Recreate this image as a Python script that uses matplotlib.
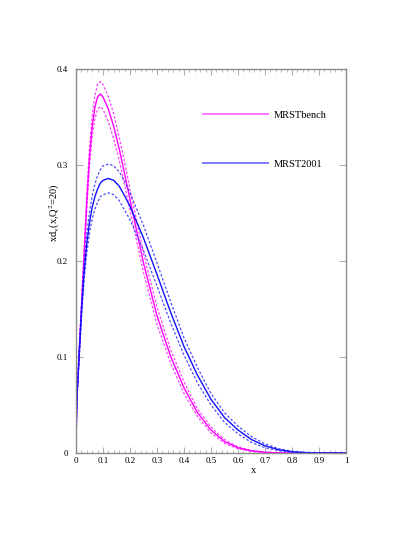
import numpy as np
import matplotlib
matplotlib.use("Agg")
import matplotlib.pyplot as plt
from matplotlib.ticker import MultipleLocator

plt.rcParams["font.family"] = ["Liberation Serif", "DejaVu Serif"]
plt.rcParams["mathtext.fontset"] = "stix"

# x grid shared by all curves
x = [0.0, 0.002, 0.005, 0.01, 0.02, 0.03, 0.04, 0.05, 0.06, 0.07, 0.08, 0.09,
     0.10, 0.12, 0.14, 0.16, 0.18, 0.20, 0.25, 0.30, 0.35, 0.40, 0.45, 0.50,
     0.55, 0.60, 0.65, 0.70, 0.75, 0.80, 0.85, 0.90, 0.95, 1.0]

# MRSTbench (magenta)
bench = [0.0, 0.040, 0.065, 0.095, 0.150, 0.205, 0.262, 0.308, 0.340, 0.360, 0.371, 0.374,
         0.371, 0.358, 0.340, 0.317, 0.291, 0.264, 0.198, 0.143, 0.101, 0.068, 0.042, 0.024,
         0.012, 0.0055, 0.0022, 0.0007, 0.0002, 0.0, 0.0, 0.0, 0.0, 0.0]
bench_hi = [0.0, 0.041, 0.067, 0.098, 0.155, 0.212, 0.271, 0.318, 0.351, 0.372, 0.384, 0.387,
            0.384, 0.371, 0.353, 0.329, 0.303, 0.275, 0.208, 0.152, 0.108, 0.074, 0.046, 0.027,
            0.014, 0.0065, 0.0027, 0.0009, 0.0003, 0.0, 0.0, 0.0, 0.0, 0.0]
bench_lo = [0.0, 0.039, 0.063, 0.092, 0.145, 0.198, 0.253, 0.298, 0.329, 0.348, 0.358, 0.361,
            0.358, 0.345, 0.327, 0.305, 0.279, 0.253, 0.188, 0.134, 0.094, 0.062, 0.038, 0.021,
            0.010, 0.0045, 0.0017, 0.0005, 0.0001, 0.0, 0.0, 0.0, 0.0, 0.0]

# MRST2001 (blue)
mrst = [0.0, 0.040, 0.066, 0.092, 0.145, 0.188, 0.218, 0.240, 0.256, 0.267, 0.275, 0.281,
        0.284, 0.286, 0.284, 0.278, 0.268, 0.257, 0.224, 0.186, 0.147, 0.111, 0.081, 0.056,
        0.037, 0.024, 0.014, 0.0075, 0.0035, 0.0013, 0.0004, 0.0001, 0.0, 0.0]
mrst_hi = [0.0, 0.041, 0.068, 0.096, 0.151, 0.196, 0.228, 0.251, 0.268, 0.280, 0.289, 0.295,
           0.299, 0.301, 0.299, 0.293, 0.283, 0.271, 0.237, 0.198, 0.158, 0.120, 0.089, 0.062,
           0.042, 0.028, 0.017, 0.0095, 0.0045, 0.0018, 0.0006, 0.0001, 0.0, 0.0]
mrst_lo = [0.0, 0.039, 0.064, 0.088, 0.139, 0.180, 0.208, 0.229, 0.244, 0.254, 0.261, 0.267,
           0.269, 0.271, 0.269, 0.263, 0.253, 0.243, 0.211, 0.174, 0.136, 0.102, 0.073, 0.050,
           0.032, 0.020, 0.011, 0.0055, 0.0025, 0.0008, 0.0002, 0.0, 0.0, 0.0]

magenta = "#ff00ff"
blue = "#1010ff"
dash = (0, (2.0, 1.5))

fig = plt.figure(figsize=(4.15, 5.37), dpi=100)
ax = fig.add_axes([0.1831, 0.1564, 0.6506, 0.7151])

ax.plot(x, bench, color=magenta, lw=1.0, label="MRSTbench")
ax.plot(x, bench_hi, color=magenta, lw=0.9, ls=dash, alpha=0.75)
ax.plot(x, bench_lo, color=magenta, lw=0.9, ls=dash, alpha=0.75)
ax.plot(x, mrst, color=blue, lw=1.0, label="MRST2001")
ax.plot(x, mrst_hi, color=blue, lw=0.9, ls=dash, alpha=0.75)
ax.plot(x, mrst_lo, color=blue, lw=0.9, ls=dash, alpha=0.75)

ax.set_xlim(0, 1)
ax.set_ylim(0, 0.4)
ax.xaxis.set_major_locator(MultipleLocator(0.1))
ax.xaxis.set_minor_locator(MultipleLocator(0.02))
ax.yaxis.set_major_locator(MultipleLocator(0.1))
ax.xaxis.set_major_formatter(plt.FuncFormatter(lambda v, p: "%g" % round(v, 2)))
ax.yaxis.set_major_formatter(plt.FuncFormatter(lambda v, p: "%g" % round(v, 2)))

for s in ax.spines.values():
    s.set_color("#8c8c8c")
    s.set_linewidth(1.0)
ax.tick_params(which="both", direction="in", top=True, right=True, colors="#b0b0b0",
               labelcolor="black", labelsize=6.5)
ax.tick_params(axis="x", which="major", length=4, width=0.8, pad=3)
ax.tick_params(axis="x", which="minor", length=2, width=0.6)
ax.tick_params(axis="y", which="major", length=5, width=0.8, pad=6)

ax.set_xlabel("x", fontsize=7.5)
ax.xaxis.set_label_coords(0.656, -0.035)
ax.set_ylabel(r"xd$_{\rm v}$(x,Q$^{2}$=20)", fontsize=7.5)
ax.yaxis.set_label_coords(-0.05, 0.625)

leg = ax.legend(loc="upper left", bbox_to_anchor=(0.452, 0.905), frameon=False, borderpad=0,
                handlelength=6.2, handletextpad=0.6, labelspacing=3.8, fontsize=7.5)
for h in leg.get_lines():
    h.set_alpha(0.55)
    h.set_linewidth(1.4)

fig.savefig("out.png", dpi=100)
